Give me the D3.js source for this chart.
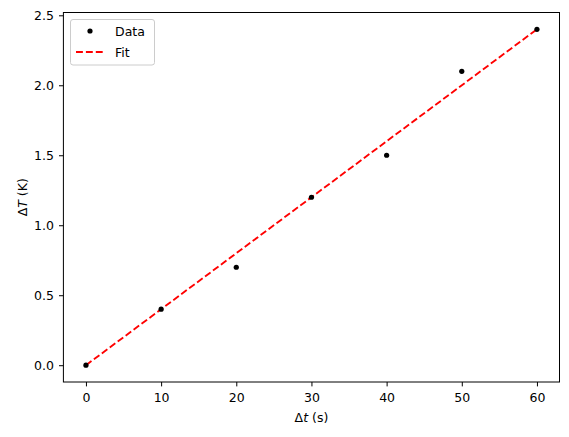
<!DOCTYPE html>
<html><head><meta charset="utf-8">
<script src="https://cdn.jsdelivr.net/npm/d3@7"></script>
<style>body{margin:0;background:#fff;} text{font-family:"DejaVu Sans",sans-serif;}</style>
</head><body>
<svg id="c" width="569" height="437"></svg>
<script>
const xData = [0, 10, 20, 30, 40, 50, 60];
const yData = [0, 0.4, 0.7, 1.2, 1.5, 2.1, 2.4];
const fitX = [0, 60];
const fitY = [0, 2.4];
const xTicks = [0, 10, 20, 30, 40, 50, 60];
const yTicks = [0.0, 0.5, 1.0, 1.5, 2.0, 2.5];

const FS = 12.5;
const svg = d3.select("#c");
const L = 63.4, R = 559.5, T = 12.5, B = 382;
const x = d3.scaleLinear().domain([-3, 63]).range([L, R]);
const y = d3.scaleLinear().domain([-0.12, 2.52]).range([B, T]);

const xa = svg.append("g").attr("transform", `translate(0,${B})`)
  .call(d3.axisBottom(x).tickValues(xTicks).tickSize(4.4).tickPadding(7.1).tickFormat(d3.format("d")));
const ya = svg.append("g").attr("transform", `translate(${L},0)`)
  .call(d3.axisLeft(y).tickValues(yTicks).tickSize(4.4).tickPadding(5).tickFormat(d3.format(".1f")));
[xa, ya].forEach(a => {
  a.select(".domain").remove();
  a.selectAll("line").attr("stroke", "#000").attr("stroke-width", 1);
  a.selectAll("text").attr("font-size", FS).attr("fill", "#000").style("font-family", "DejaVu Sans");
});

svg.append("rect").attr("x", L).attr("y", T).attr("width", R - L).attr("height", B - T)
  .attr("fill", "none").attr("stroke", "#000").attr("stroke-width", 1);

const line = d3.line().x(d => x(d[0])).y(d => y(d[1]));
svg.append("path").datum(fitX.map((v, i) => [v, fitY[i]])).attr("d", line)
  .attr("fill", "none").attr("stroke", "red").attr("stroke-width", 1.875).attr("stroke-dasharray", "6.9,3");

svg.append("g").selectAll("circle").data(xData.map((v, i) => [v, yData[i]])).join("circle")
  .attr("cx", d => x(d[0])).attr("cy", d => y(d[1])).attr("r", 2.6).attr("fill", "#000");

// axis labels
const xl = svg.append("text").attr("x", (L + R) / 2).attr("y", 421.5).attr("text-anchor", "middle").attr("font-size", FS);
xl.append("tspan").text("Δ");
xl.append("tspan").attr("font-style", "italic").text("t");
xl.append("tspan").text(" (s)");
const yl = svg.append("text").attr("transform", `translate(27,${(T + B) / 2}) rotate(-90)`).attr("text-anchor", "middle").attr("font-size", FS);
yl.append("tspan").text("Δ");
yl.append("tspan").attr("font-style", "italic").text("T");
yl.append("tspan").text(" (K)");

// legend
const lg = svg.append("g");
lg.append("rect").attr("x", 70.5).attr("y", 19.5).attr("width", 84).attr("height", 45.5).attr("rx", 2.5)
  .attr("fill", "#fff").attr("fill-opacity", 0.8).attr("stroke", "#ccc").attr("stroke-width", 1);
lg.append("circle").attr("cx", 90).attr("cy", 31).attr("r", 2.6).attr("fill", "#000");
lg.append("line").attr("x1", 76).attr("x2", 104).attr("y1", 52).attr("y2", 52)
  .attr("stroke", "red").attr("stroke-width", 1.875).attr("stroke-dasharray", "6.9,3");
lg.append("text").attr("x", 115).attr("y", 36).attr("font-size", FS).text("Data");
lg.append("text").attr("x", 115).attr("y", 56.5).attr("font-size", FS).text("Fit");
</script>
</body></html>
